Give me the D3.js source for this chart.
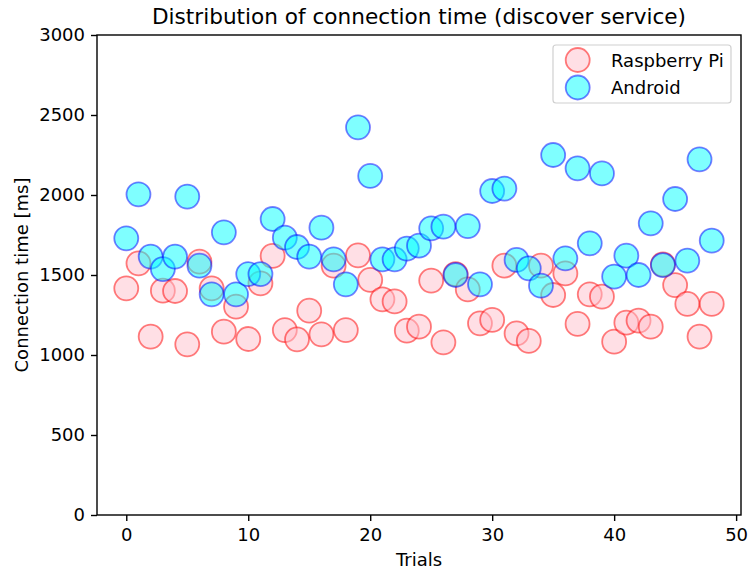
<!DOCTYPE html>
<html>
<head>
<meta charset="utf-8">
<script src="https://cdn.jsdelivr.net/npm/d3@7"></script>
<style>
  body { margin: 0; background: #fff; }
  svg text { font-family: "DejaVu Sans", sans-serif; fill: #000; }
</style>
</head>
<body>
<svg id="chart" width="748" height="572"></svg>
<script>
const trials = d3.range(49);
const raspberryPi = [1417, 1573, 1115, 1402, 1400, 1067, 1583, 1417, 1146, 1302,
  1100, 1448, 1619, 1156, 1098, 1277, 1129, 1558, 1156, 1623,
  1469, 1348, 1335, 1152, 1177, 1465, 1079, 1506, 1410, 1198,
  1219, 1558, 1135, 1088, 1558, 1375, 1510, 1194, 1379, 1365,
  1083, 1202, 1215, 1177, 1567, 1437, 1319, 1115, 1319];
const android = [1729, 2004, 1615, 1537, 1615, 1990, 1558, 1379, 1767, 1379,
  1506, 1506, 1850, 1733, 1675, 1615, 1796, 1598, 1442, 2423,
  2119, 1598, 1598, 1665, 1683, 1792, 1802, 1500, 1806, 1442,
  2025, 2040, 1594, 1542, 1433, 2250, 1604, 2167, 1698, 2135,
  1490, 1621, 1500, 1823, 1562, 1975, 1590, 2223, 1715];
const xTicks = [0, 10, 20, 30, 40, 50];
const yTicks = [0, 500, 1000, 1500, 2000, 2500, 3000];
const seriesNames = ["Raspberry Pi", "Android"];

const svg = d3.select("#chart");
const L = 97, R = 741, T = 35, B = 515;
const x = d3.scaleLinear().domain([-2.4, 50.4]).range([L, R]);
const y = d3.scaleLinear().domain([0, 3000]).range([B, T]);

const styles = [
  { fill: "pink", stroke: "red" },
  { fill: "cyan", stroke: "blue" }
];
const rad = 12;
const fs = "18px";

[raspberryPi, android].forEach((vals, si) => {
  svg.append("g").selectAll("circle").data(vals).join("circle")
    .attr("cx", (d, i) => x(trials[i]))
    .attr("cy", d => y(d))
    .attr("r", rad)
    .attr("fill", styles[si].fill).attr("fill-opacity", 0.5)
    .attr("stroke", styles[si].stroke).attr("stroke-opacity", 0.5)
    .attr("stroke-width", 1.8);
});

// axes
const xAxis = svg.append("g").attr("transform", `translate(0,${B})`)
  .call(d3.axisBottom(x).tickValues(xTicks).tickSize(6).tickPadding(7.5).tickFormat(d3.format("d")));
const yAxis = svg.append("g").attr("transform", `translate(${L},0)`)
  .call(d3.axisLeft(y).tickValues(yTicks).tickSize(6).tickPadding(6).tickFormat(d3.format("d")));
[xAxis, yAxis].forEach(g => {
  g.selectAll("text").style("font-size", fs).attr("fill", "#000");
  g.selectAll("line").attr("stroke", "#000").attr("stroke-width", 1.4);
  g.select(".domain").remove();
});
svg.append("rect").attr("x", L).attr("y", T).attr("width", R - L).attr("height", B - T)
  .attr("fill", "none").attr("stroke", "#000").attr("stroke-width", 1.4);

// title and labels
svg.append("text").attr("x", (L + R) / 2).attr("y", 24).attr("text-anchor", "middle")
  .style("font-size", "21.6px").text("Distribution of connection time (discover service)");
svg.append("text").attr("x", (L + R) / 2).attr("y", 566).attr("text-anchor", "middle")
  .style("font-size", fs).text("Trials");
svg.append("text").attr("transform", `translate(28,${(T + B) / 2}) rotate(-90)`)
  .attr("text-anchor", "middle").style("font-size", fs).text("Connection time [ms]");

// legend
const lg = svg.append("g");
lg.append("rect").attr("x", 553).attr("y", 45).attr("width", 178).attr("height", 58)
  .attr("rx", 3).attr("fill", "#fff").attr("fill-opacity", 0.8)
  .attr("stroke", "#d0d0d0").attr("stroke-width", 1.2);
seriesNames.forEach((name, i) => {
  const cy = 60 + i * 27.5;
  lg.append("circle").attr("cx", 577.7).attr("cy", cy).attr("r", rad)
    .attr("fill", styles[i].fill).attr("fill-opacity", 0.5)
    .attr("stroke", styles[i].stroke).attr("stroke-opacity", 0.5).attr("stroke-width", 1.8);
  lg.append("text").attr("x", 611).attr("y", cy + 6.5).style("font-size", fs).text(name);
});
</script>
</body>
</html>
